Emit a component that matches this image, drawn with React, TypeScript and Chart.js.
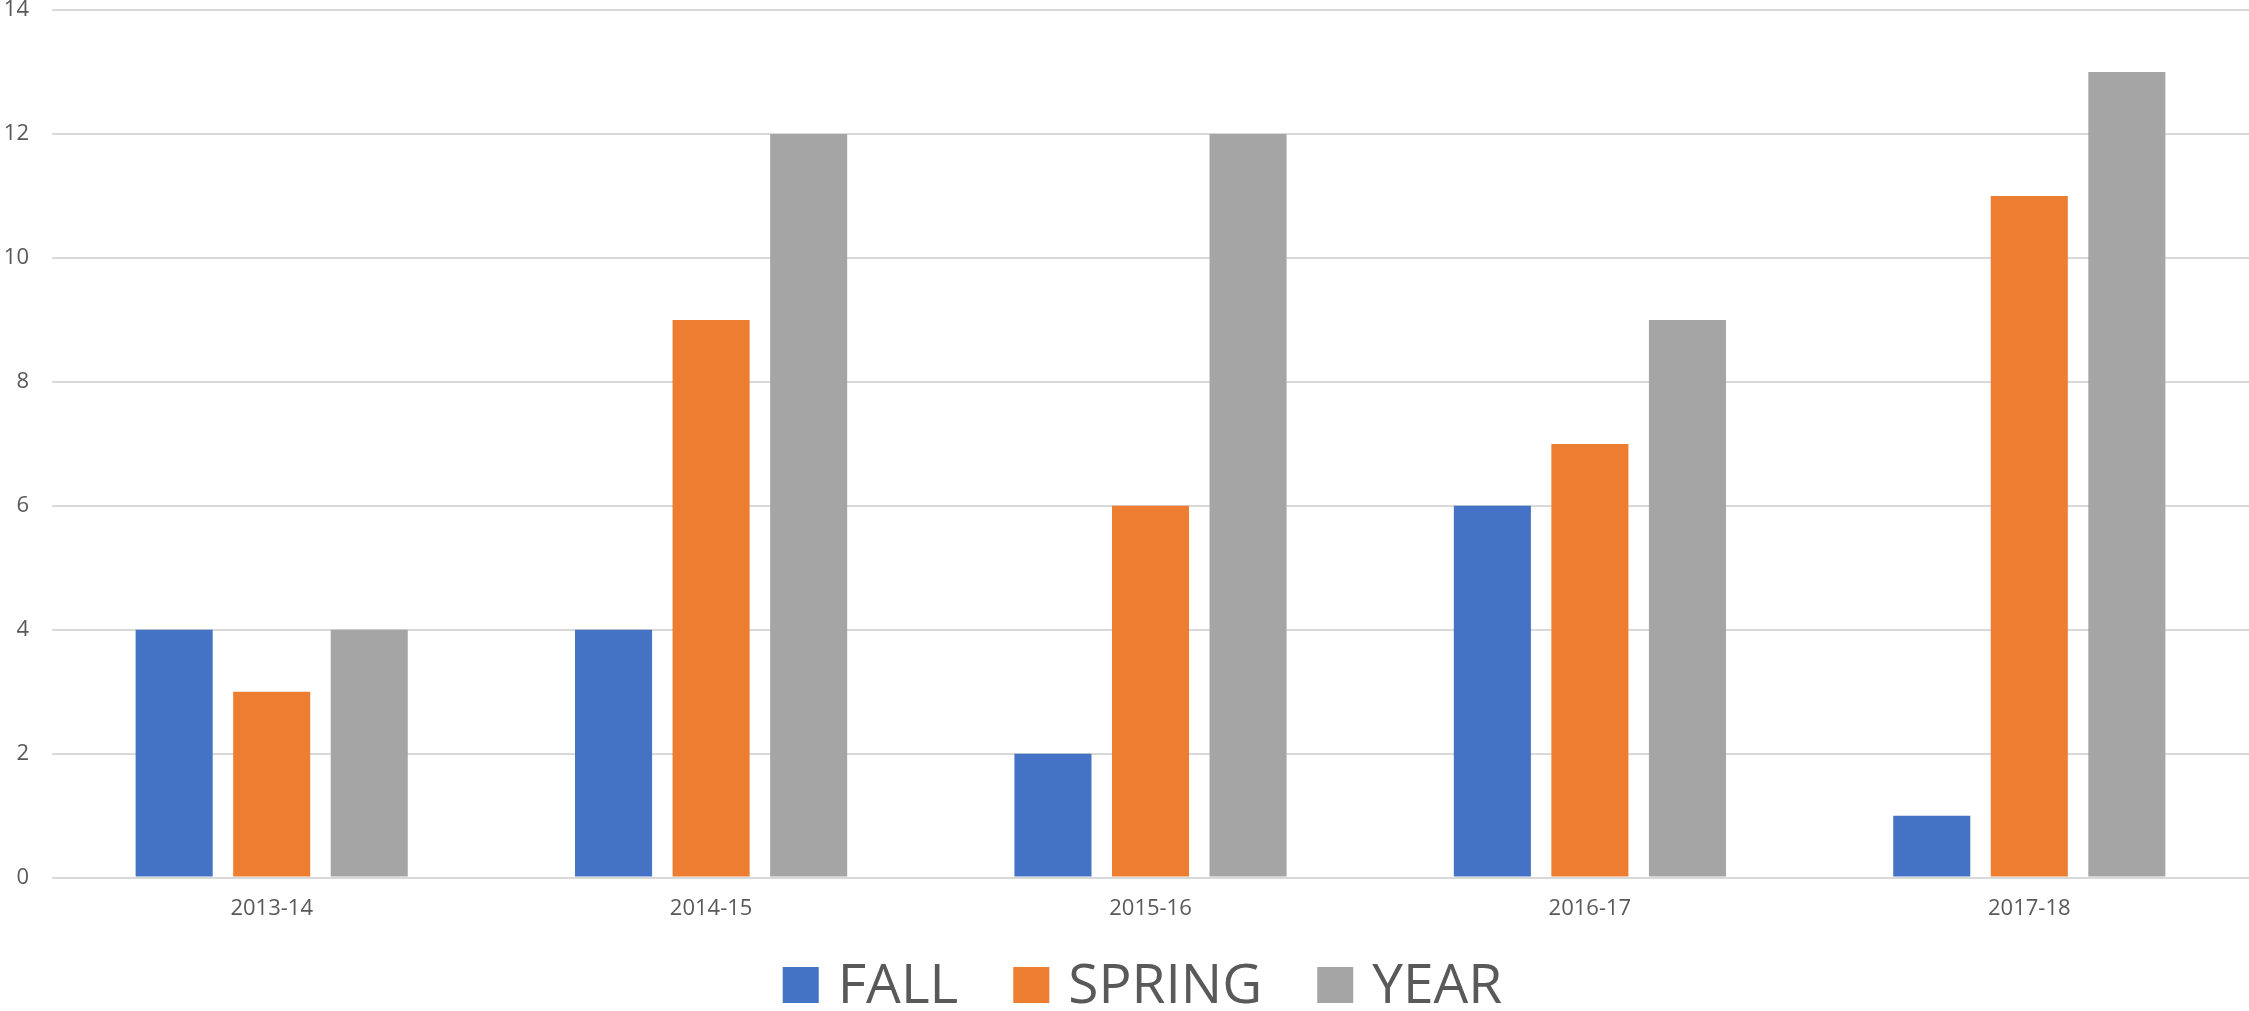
import React, { useEffect, useRef } from "react";
import { Chart, registerables } from "chart.js";

Chart.register(...registerables);

const categories = ["2013-14", "2014-15", "2015-16", "2016-17", "2017-18"];
const fallValues = [4, 4, 2, 6, 1];
const springValues = [3, 9, 6, 7, 11];
const yearValues = [4, 12, 12, 9, 13];
const seriesNames = ["FALL", "SPRING", "YEAR"];
const seriesColors = ["#4472C4", "#ED7D31", "#A5A5A5"];

const bottomLegendPlugin = {
  id: "bottomLegend",
  afterDraw(chart: any) {
    const ctx = chart.ctx;
    const box = 36;
    const boxGap = 19;
    const itemGap = 55;
    const baseline = chart.height - 8;
    ctx.save();
    ctx.font = "55px 'Open Sans'";
    ctx.textBaseline = "alphabetic";
    ctx.textAlign = "left";
    const items = chart.data.datasets.map((ds: any) => ({
      text: ds.label as string,
      color: ds.backgroundColor as string,
      w: ctx.measureText(ds.label).width,
    }));
    let total = 0;
    items.forEach((it: any, i: number) => {
      total += box + boxGap + it.w + (i < items.length - 1 ? itemGap : 0);
    });
    const center = (chart.chartArea.left + chart.chartArea.right) / 2 - 8;
    let x = center - total / 2;
    items.forEach((it: any) => {
      ctx.fillStyle = it.color;
      ctx.fillRect(x, baseline - box, box, box);
      x += box + boxGap;
      ctx.fillStyle = "#595959";
      ctx.fillText(it.text, x, baseline);
      x += it.w + itemGap;
    });
    ctx.restore();
  },
};

export default function App() {
  const canvasRef = useRef<HTMLCanvasElement | null>(null);

  useEffect(() => {
    document.body.style.margin = "0";
    const canvas = canvasRef.current;
    if (!canvas) return;
    const seriesValues = [fallValues, springValues, yearValues];
    const chart = new Chart(canvas, {
      type: "bar",
      data: {
        labels: categories,
        datasets: seriesNames.map((name, i) => ({
          label: name,
          data: seriesValues[i],
          backgroundColor: seriesColors[i],
          borderWidth: 0,
          categoryPercentage: 0.666,
          barPercentage: 0.79,
        })),
      },
      plugins: [bottomLegendPlugin],
      options: {
        animation: false,
        responsive: true,
        maintainAspectRatio: false,
        layout: { padding: { top: 0, right: 0, bottom: 71, left: 0 } },
        plugins: {
          tooltip: { enabled: false },
          legend: { display: false },
        },
        scales: {
          x: {
            grid: { display: false, drawTicks: false },
            border: { display: false },
            ticks: {
              color: "#595959",
              font: { family: "'Open Sans'", size: 22, lineHeight: 1.2 },
              padding: 18,
            },
          },
          y: {
            min: 0,
            max: 14,
            ticks: {
              stepSize: 2,
              color: "#595959",
              font: { family: "'Open Sans'", size: 22, lineHeight: 0.65 },
              padding: 3,
            },
            grid: { color: "#d9d9d9", lineWidth: 2, drawTicks: true, tickLength: 20, tickColor: "rgba(0,0,0,0)" },
            border: { display: false },
            afterFit: (scale: any) => {
              scale.width = 52;
            },
          },
        },
      },
    });
    return () => chart.destroy();
  }, []);

  return (
    <div style={{ position: "absolute", left: 0, top: 0, width: "2249px", height: "1011px", background: "#ffffff" }}>
      <canvas ref={canvasRef} />
    </div>
  );
}
